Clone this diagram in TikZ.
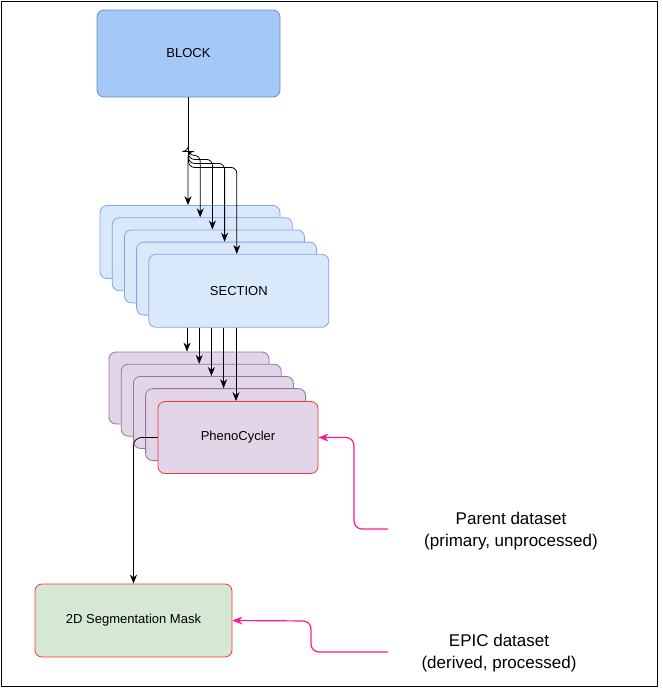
\documentclass[tikz,border=0pt]{standalone}
\usepackage{fontspec}
\setmainfont{Liberation Sans}
\usetikzlibrary{arrows.meta,positioning}
\definecolor{blockfill}{HTML}{A4C8F7}
\definecolor{blockline}{HTML}{6C8EBF}
\definecolor{secfill}{HTML}{DAE8FC}
\definecolor{secline}{HTML}{7EA6E0}
\definecolor{phefill}{HTML}{E1D5E7}
\definecolor{pheline}{HTML}{9673A6}
\definecolor{redline}{HTML}{FF3333}
\definecolor{maskfill}{HTML}{D5E8D4}
\definecolor{pinkline}{HTML}{FF1A8C}
\tikzset{
  box/.style={rounded corners=7pt,minimum width=#1,inner sep=0pt,font=\fontsize{13}{15}\selectfont},
  link/.style={draw=black,line width=0.8pt,-{Stealth[length=9pt,width=7pt]}},
  feed/.style={draw=pinkline,line width=1.2pt,rounded corners=8pt,-{Stealth[length=10pt,width=8pt]}},
  note/.style={align=center,font=\fontsize{17}{22}\selectfont}
}
\begin{document}
\begin{tikzpicture}[x=1pt,y=-1pt]
  \useasboundingbox (0,0) rectangle (662,688);
  \draw[line width=0.8pt] (1,1) rectangle (657,686);
  \node (block) [box=183pt,minimum height=87pt,fill=blockfill,draw=blockline,line width=0.8pt] at (188.5,53.5) {BLOCK};
  % stacked sections
  \foreach \i in {1,...,5}{
    \node (sec\i) [box=180pt,minimum height=73pt,fill=secfill,draw=secline,line width=0.8pt]
      at ({190+12.2*(\i-1)},{242+12.2*(\i-1)}) {\ifnum\i=5 SECTION\fi};
  }
  \foreach \i in {1,...,5}
    \draw[link,rounded corners=6pt] (block.south) -- ++(0,{50+4*\i}) -| ([xshift=-2pt]sec\i.north);
  % stacked phenocycler runs
  \foreach \i in {1,...,4}{
    \node (phe\i) [box=160pt,minimum height=72pt,fill=phefill,draw=pheline,line width=0.8pt]
      at ({189+12.2*(\i-1)},{388+12.2*(\i-1)}) {};
  }
  \node (phe5) [box=160pt,minimum height=72pt,fill=phefill,draw=redline,line width=0.8pt] at (238,437.5) {PhenoCycler};
  \foreach \i in {1,...,5}
    \draw[link] ([xshift=-2pt]phe\i.north |- sec5.south) -- ([xshift=-2pt]phe\i.north);
  \node (mask) [box=197pt,minimum height=73pt,fill=maskfill,draw=redline,line width=0.8pt] at (133.5,620.5) {2D Segmentation Mask};
  \draw[link,rounded corners=8pt] (phe5.west) -| (mask.north);
  % dataset notes
  \node (parent) [note] at (511,531) {Parent dataset\\(primary, unprocessed)};
  \node (epic) [note] at (499,653) {EPIC dataset\\(derived, processed)};
  \coordinate (pstart) at (388,529);
  \coordinate (estart) at (388,652);
  \draw[feed] (pstart) -- (354,529) -- (354,437.5) -- (phe5.east);
  \draw[feed] (estart) -- (311,652) -- (311,621) -- (mask.east);
\end{tikzpicture}
\end{document}
